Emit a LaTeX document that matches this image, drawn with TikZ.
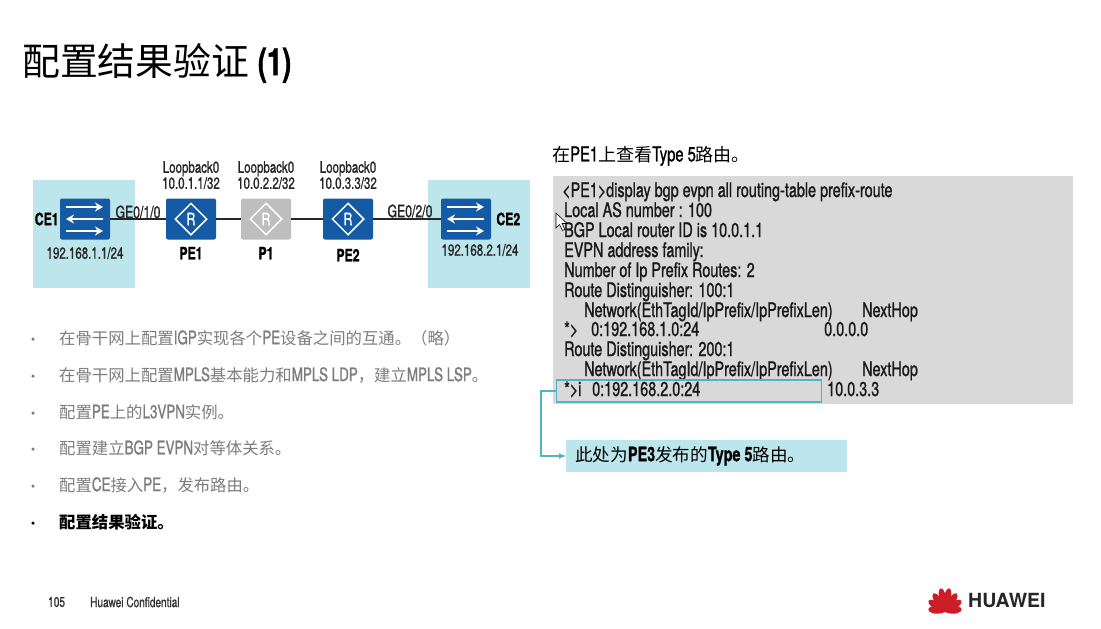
\documentclass[tikz,border=0pt]{standalone}
\usepackage{fontspec}
\setmainfont[FakeStretch=0.72,FakeBold=1.1]{TeX Gyre Heros}
\newfontfamily\cjk[Scale=0.88]{Noto Sans CJK SC}
\newfontfamily\brandfont{TeX Gyre Heros}
\usetikzlibrary{arrows.meta, positioning, shapes.geometric, calc}
\definecolor{hwblue}{RGB}{20, 90, 165}
\definecolor{hwgray}{RGB}{190, 190, 190}
\definecolor{hwcyan}{RGB}{189, 230, 236}
\definecolor{hwline}{RGB}{80, 180, 195}
\definecolor{hwterm}{RGB}{217, 217, 217}
\definecolor{hwtext}{RGB}{125, 125, 125}
\definecolor{hwred}{RGB}{205, 30, 40}
\tikzset{
	devbox/.style={fill=hwblue, rounded corners=2pt, minimum width=50pt, minimum height=41pt, inner sep=0pt},
	sitebox/.style={fill=hwcyan, minimum width=102pt, minimum height=108pt, inner sep=0pt},
	lbl/.style={font=\fontsize{16}{16}\selectfont, inner sep=0pt, align=center, text=black!85},
	devname/.style={font=\fontsize{17}{20}\bfseries\selectfont, inner sep=0pt},
	termline/.style={anchor=west, font=\fontsize{20}{20}\selectfont, inner sep=0pt, text=black!90, text height=14pt, text depth=0pt},
	stepline/.style={anchor=west, font=\fontsize{18.6}{18}\selectfont, inner sep=0pt, text=hwtext},
	dotmark/.style={circle, fill=hwtext, inner sep=0pt, minimum size=3.5pt},
	wire/.style={line width=1.2pt, black!85},
	flow/.style={line width=2.4pt, white, -{Stealth[length=8pt, width=9pt]}}
}
\newcommand{\zh}[1]{{\cjk #1}}
\begin{document}
\begin{tikzpicture}[x=1pt, y=-1pt]
	\useasboundingbox[fill=white] (0,0) rectangle (1101,629);
	\node[anchor=west, inner sep=0pt, font=\fontsize{43}{46}\selectfont] (title) at (22,63) {\zh{配置结果验证} {\fontsize{38}{40}\bfseries\selectfont (1)}};

	\node[sitebox] (site1) at (84,234) {};
	\node[sitebox] (site2) at (479,234) {};

	\node[devbox] (ce1) at (85,219) {};
	\node[devbox] (pe1) at (191,219) {};
	\node[devbox, fill=hwgray] (p1) at (266,219) {};
	\node[devbox] (pe2) at (348,219) {};
	\node[devbox] (ce2) at (466,219) {};
	\draw[wire] (ce1) -- (pe1);
	\draw[wire] (pe1) -- (p1);
	\draw[wire] (p1) -- (pe2);
	\draw[wire] (pe2) -- (ce2);

	\foreach \sw in {ce1, ce2} {
		\draw[flow] ($(\sw)+(-19,-12)$) -- ($(\sw)+(18,-12)$);
		\draw[flow] ($(\sw)+(18,0)$) -- ($(\sw)+(-19,0)$);
		\draw[flow] ($(\sw)+(-19,12)$) -- ($(\sw)+(18,12)$);
	}
	\foreach \rt in {pe1, p1, pe2} {
		\node[draw=white, line width=1.5pt, diamond, minimum width=32pt, minimum height=32pt, inner sep=0pt, text=white, font=\fontsize{17}{17}\selectfont] at (\rt) {R};
	}

	\node[devname, left=1pt of ce1] (ce1name) {CE1};
	\node[devname, below=7pt of pe1] (pe1name) {PE1};
	\node[devname, below=7pt of p1] (p1name) {P1};
	\node[devname, below=9pt of pe2] (pe2name) {PE2};
	\node[devname, right=5pt of ce2] (ce2name) {CE2};
	\node[lbl, above=9pt of pe1] (lo1) {Loopback0\\10.0.1.1/32};
	\node[lbl, above=9pt of p1] (lo2) {Loopback0\\10.0.2.2/32};
	\node[lbl, above=9pt of pe2] (lo3) {Loopback0\\10.0.3.3/32};
	\node[lbl] (ip1) at (85,253) {192.168.1.1/24};
	\node[lbl] (ip2) at (480,250) {192.168.2.1/24};
	\node[lbl, font=\fontsize{17}{17}\selectfont] (ge1) at (138,212) {GE0/1/0};
	\node[lbl, font=\fontsize{17}{17}\selectfont] (ge2) at (410,211) {GE0/2/0};

	\foreach \y/\t in {338/{\zh{在骨干网上配置}IGP\zh{实现各个}PE\zh{设备之间的互通。（略）}},
			375/{\zh{在骨干网上配置}MPLS\zh{基本能力和}MPLS LDP\zh{，建立}MPLS LSP\zh{。}},
			412/{\zh{配置}PE\zh{上的}L3VPN\zh{实例。}},
			448/{\zh{配置建立}BGP EVPN\zh{对等体关系。}},
			485/{\zh{配置}CE\zh{接入}PE\zh{，发布路由。}}} {
		\node[dotmark] at (33,\y+1) {};
		\node[stepline] at (59,\y) {\t};
	}
	\node[dotmark, fill=black] (lastdot) at (33,523) {};
	\node[stepline, text=black, font=\fontsize{18.6}{18}\bfseries\selectfont] (laststep) at (59,522) {\zh{配置结果验证。}};

	\node[anchor=west, inner sep=0pt, font=\fontsize{20.5}{20}\selectfont] (head) at (552,156) {\zh{在}PE1\zh{上查看}Type 5\zh{路由。}};
	\node[fill=hwterm, minimum width=520pt, minimum height=228pt, inner sep=0pt] (term) at (813,290) {};
	\foreach \x/\y/\t in {562/190/{<PE1>display bgp evpn all routing-table prefix-route},
			564/210/{Local AS number : 100},
			564/230/{BGP Local router ID is 10.0.1.1},
			564/250/{EVPN address family:},
			564/270/{Number of Ip Prefix Routes: 2},
			564/290/{Route Distinguisher: 100:1},
			584/310/{Network(EthTagId/IpPrefix/IpPrefixLen)},
			862/310/{NextHop},
			564/329/{*>},
			591/329/{0:192.168.1.0:24},
			824/329/{0.0.0.0},
			564/349/{Route Distinguisher: 200:1},
			584/369/{Network(EthTagId/IpPrefix/IpPrefixLen)},
			862/369/{NextHop},
			564/389/{*>i},
			592/389/{0:192.168.2.0:24},
			827/389/{10.0.3.3}} {
		\node[termline] at (\x,\y) {\t};
	}
	\node[draw=hwline, line width=1.2pt, minimum width=265pt, minimum height=22pt, inner sep=0pt] (hit) at (689,391) {};
	\node[fill=hwcyan, anchor=west, minimum width=281pt, minimum height=32pt, inner sep=0pt] (note) at (566,456) {};
	\node[anchor=west, inner sep=0pt, font=\fontsize{20}{20}\selectfont, right=9pt of note.west] (notetext) {\zh{此处为}\textbf{PE3}\zh{发布的}\textbf{Type 5}\zh{路由。}};
	\draw[hwline, line width=1.2pt, -{Latex[length=7pt, width=6pt]}] (hit.west) -- ++(-15,0) |- (note.west);

	\coordinate (cursor) at (556,213);
	\draw[fill=white, draw=black, line width=0.6pt] (cursor) -- ++(0,15) -- ++(3.5,-3.5) -- ++(3,6) -- ++(2.5,-1.2) -- ++(-3,-5.8) -- ++(5,0) -- cycle;

	\node[anchor=west, inner sep=0pt, font=\fontsize{14}{14}\selectfont, text=black!80] (pageno) at (48,602) {105};
	\node[anchor=west, inner sep=0pt, font=\fontsize{14}{14}\selectfont, text=black!80] (conf) at (90,602) {Huawei Confidential};

	\coordinate (logo) at (945,612);
	\foreach \a/\l in {-80/17, -55/20, -32/22, -10/24, 10/24, 32/22, 55/20, 80/17} {
		\begin{scope}[shift={(logo)}, rotate=\a]
			\fill[hwred] (0,0) .. controls (-5.5,-\l*0.5) and (-3.5,-\l) .. (0,-\l) .. controls (3.5,-\l) and (5.5,-\l*0.5) .. (0,0) -- cycle;
		\end{scope}
	}
	\node[anchor=west, inner sep=0pt, font=\brandfont\fontsize{19.5}{22}\bfseries\selectfont, text=black!85] (brand) at (968,601) {HUAWEI};
\end{tikzpicture}
\end{document}
